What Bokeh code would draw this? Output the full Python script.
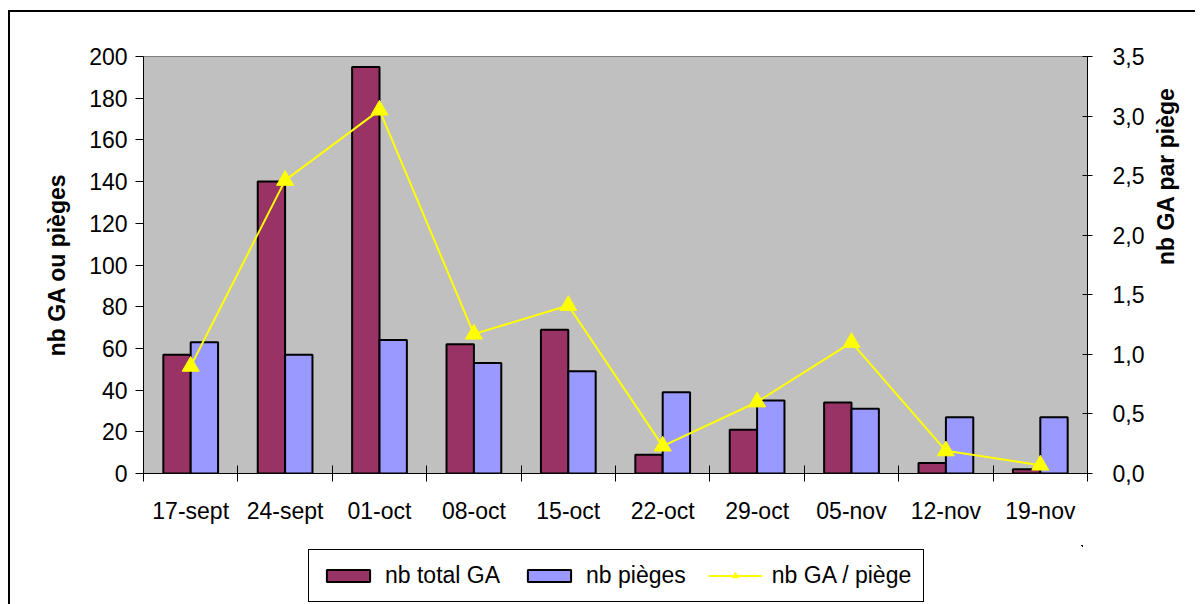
import math
from bokeh.plotting import figure
from bokeh.layouts import column
from bokeh.models import (ColumnDataSource, Range1d, LinearAxis, FixedTicker,
                          CustomJSTickFormatter, Legend, LegendItem)
from bokeh.transform import dodge
from bokeh.embed import file_html
from bokeh.resources import INLINE

categories = ["17-sept", "24-sept", "01-oct", "08-oct", "15-oct",
              "22-oct", "29-oct", "05-nov", "12-nov", "19-nov"]
total_ga = [57, 140, 195, 62, 69, 9, 21, 34, 5, 2]
nb_pieges = [63, 57, 64, 53, 49, 39, 35, 31, 27, 27]
ga_par_piege = [0.90, 2.46, 3.05, 1.17, 1.41, 0.23, 0.60, 1.10, 0.19, 0.07]

FONT = "Liberation Sans"
FS = "23px"
RED = "#993366"
BLUE = "#9999FF"
YEL = "#FFFF00"
n = len(categories)
pos = [i + 0.5 for i in range(n)]

src = ColumnDataSource(dict(x=pos, total=total_ga, pieges=nb_pieges, ratio=ga_par_piege))

p = figure(output_backend="svg", toolbar_location=None,
           frame_width=944, frame_height=417,
           min_border_left=133, min_border_top=44, min_border_right=100, min_border_bottom=72,
           x_range=Range1d(0, n), y_range=Range1d(0, 200),
           background_fill_color="#C0C0C0", border_fill_color="white")
p.outline_line_color = "#808080"
p.outline_line_width = 1
p.xgrid.visible = False
p.ygrid.visible = False

p.extra_y_ranges = {"ratio": Range1d(0, 3.5)}

p.vbar(x=dodge("x", -0.145), top="total", width=0.29, source=src,
       fill_color=RED, line_color="black", line_width=2)
p.vbar(x=dodge("x", 0.145), top="pieges", width=0.29, source=src,
       fill_color=BLUE, line_color="black", line_width=2)
p.line(x="x", y="ratio", source=src, y_range_name="ratio",
       line_color=YEL, line_width=2)
p.scatter(x="x", y="ratio", source=src, y_range_name="ratio", marker="triangle",
          size=17, fill_color=YEL, line_color=YEL)

# x axis: ticks between categories (minor), labels at centers
xa = p.xaxis[0]
xa.ticker = FixedTicker(ticks=pos, minor_ticks=list(range(n + 1)))
xa.major_label_overrides = {p_: c for p_, c in zip(pos, categories)}
xa.major_tick_in = 0
xa.major_tick_out = 0
xa.minor_tick_in = 8
xa.minor_tick_out = 8
xa.minor_tick_line_color = "black"
xa.major_label_standoff = 16
xa.axis_line_color = "black"
xa.major_label_text_font = FONT
xa.major_label_text_font_size = FS
xa.major_label_text_color = "black"

ya = p.yaxis[0]
ya.ticker = FixedTicker(ticks=list(range(0, 201, 20)))
ya.major_tick_in = 0
ya.major_tick_out = 8
ya.minor_tick_line_color = None
ya.major_label_standoff = 8
ya.axis_line_color = "black"
ya.major_label_text_font = FONT
ya.major_label_text_font_size = FS
ya.major_label_text_color = "black"
ya.axis_label = "nb GA ou pièges"
ya.axis_label_text_font = FONT
ya.axis_label_text_font_style = "bold"
ya.axis_label_text_font_size = FS
ya.axis_label_text_color = "black"
ya.axis_label_standoff = 16

ra = LinearAxis(y_range_name="ratio",
                ticker=FixedTicker(ticks=[0, 0.5, 1, 1.5, 2, 2.5, 3, 3.5]),
                formatter=CustomJSTickFormatter(code="return tick.toFixed(1).replace('.', ',');"))
ra.major_tick_in = 5
ra.major_tick_out = 5
ra.minor_tick_line_color = None
ra.major_label_standoff = 20
ra.axis_line_color = "black"
ra.major_label_text_font = FONT
ra.major_label_text_font_size = FS
ra.major_label_text_color = "black"
ra.axis_label = "nb GA par piège"
ra.axis_label_orientation = math.pi / 2
ra.axis_label_text_align = "center"
ra.axis_label_text_baseline = "middle"
ra.axis_label_text_font = FONT
ra.axis_label_text_font_style = "bold"
ra.axis_label_text_font_size = FS
ra.axis_label_text_color = "black"
ra.axis_label_standoff = 19
p.add_layout(ra, "right")

# legend strip below the chart (proxy glyphs use the same data, kept out of view)
lg = figure(output_backend="svg", toolbar_location=None,
            width=1180, height=59, min_border=0,
            x_axis_type=None, y_axis_type=None,
            x_range=Range1d(-20, -19), y_range=Range1d(-20, -19),
            background_fill_color="white", border_fill_color="white")
lg.outline_line_color = None
lg.xgrid.visible = False
lg.ygrid.visible = False
g1 = lg.vbar(x="x", top="total", width=0.29, source=src,
             fill_color=RED, line_color="black", line_width=2)
g2 = lg.vbar(x="x", top="pieges", width=0.29, source=src,
             fill_color=BLUE, line_color="black", line_width=2)
g3 = lg.line(x="x", y="ratio", source=src, line_color=YEL, line_width=2)
g4 = lg.scatter(x="x", y="ratio", source=src, marker="triangle", size=17,
                fill_color=YEL, line_color=YEL)

legend = Legend(items=[LegendItem(label="nb total GA", renderers=[g1]),
                       LegendItem(label="nb pièges", renderers=[g2]),
                       LegendItem(label="nb GA / piège", renderers=[g3, g4])],
                orientation="horizontal", location=(165, 2),
                border_line_color="black", border_line_width=1, border_line_alpha=1,
                background_fill_color="white", background_fill_alpha=1,
                label_text_font=FONT, label_text_font_size=FS, label_text_color="black",
                glyph_width=54, glyph_height=15, spacing=22, label_standoff=10,
                padding=12, margin=0)
lg.add_layout(legend, "center")

layout = column(p, lg, spacing=0,
                styles={"border-left": "2px solid black", "border-top": "2px solid black",
                        "margin-left": "8px", "margin-top": "10px"})

open("out.html", "w").write(file_html(layout, INLINE))
